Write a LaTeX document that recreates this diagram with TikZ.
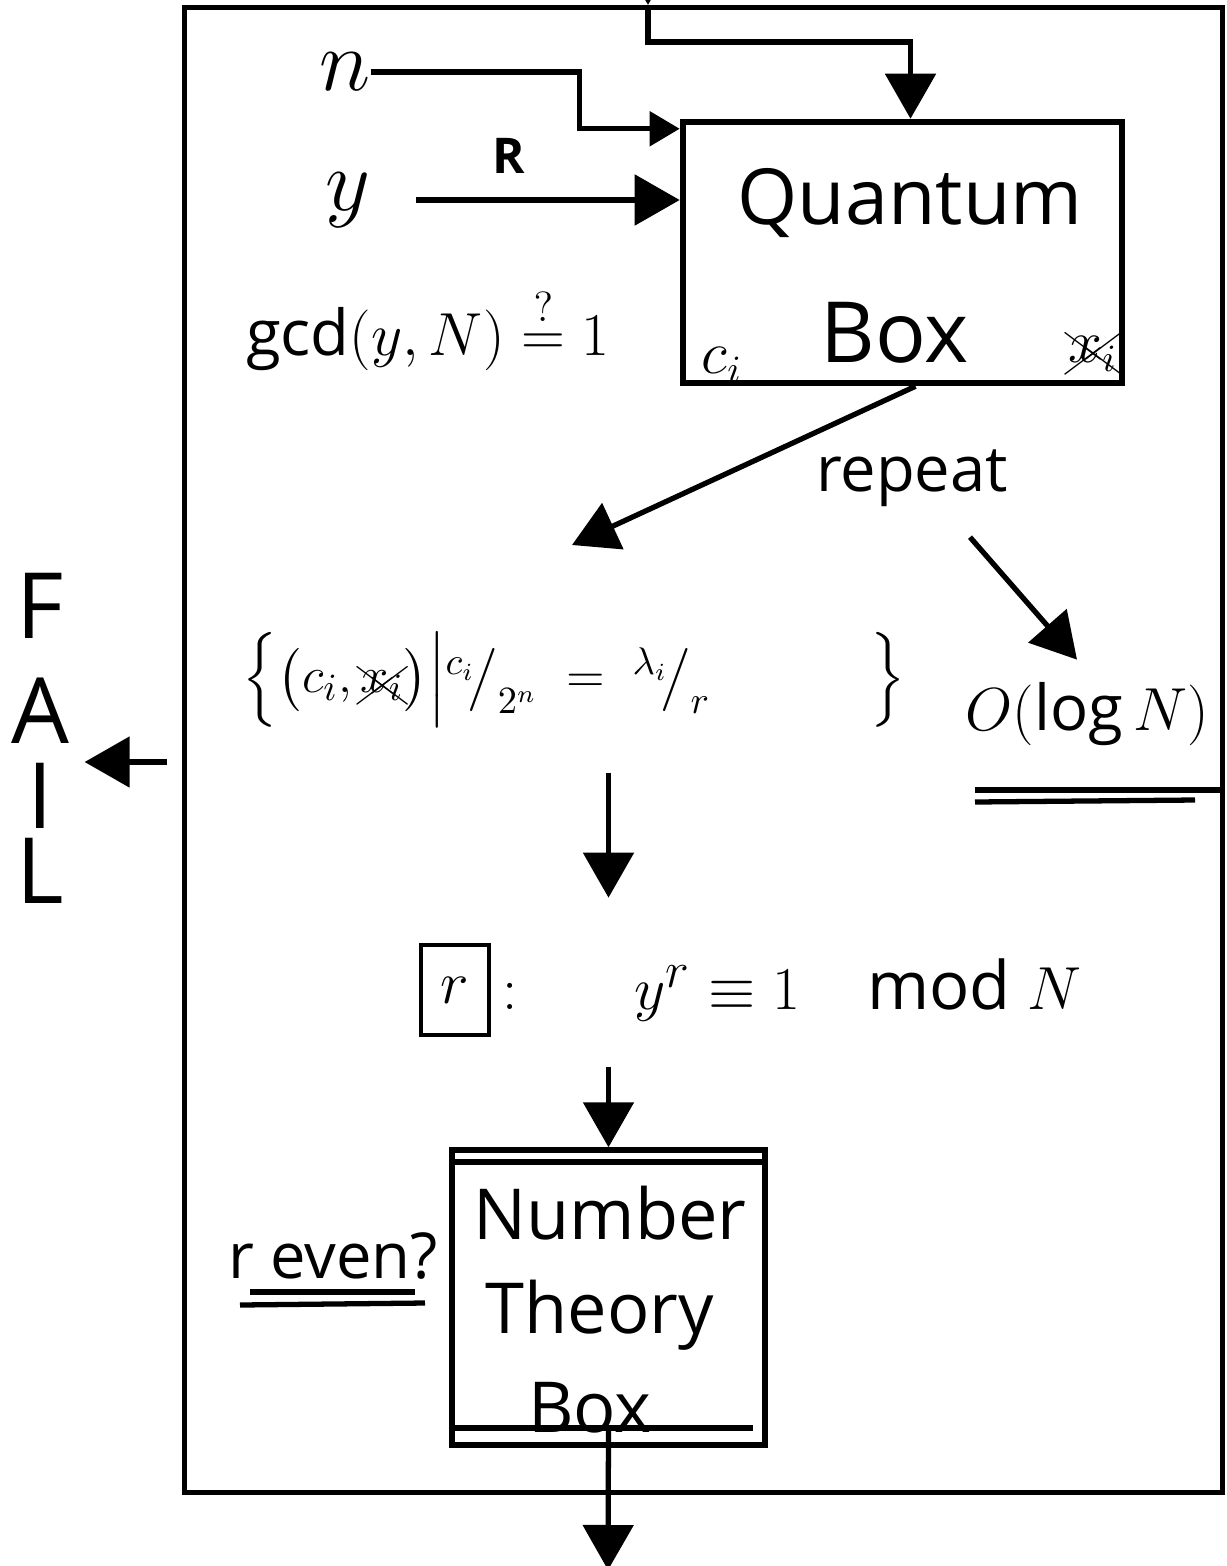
\documentclass[tikz,border=0pt]{standalone}
\usepackage{amsmath}
\usepackage{amssymb}
\usepackage{cancel}
\usepackage{fontspec}
\setmainfont{Open Sans}
\usetikzlibrary{arrows.meta,positioning,calc}
\tikzset{
  frame/.style={rectangle, draw, line width=1.5pt, inner sep=0pt},
  qbox/.style={rectangle, draw, line width=1.8pt, inner sep=0pt},
  arr/.style={-{Triangle[length=4.5mm,width=5mm]}, line width=1.5pt},
  sarr/.style={-{Triangle[length=3mm,width=3.4mm]}, line width=1.5pt},
  word/.style={font=\fontsize{22}{26}\selectfont, inner sep=0pt},
  formula/.style={font=\fontsize{18}{22}\selectfont, inner sep=0pt},
  fail/.style={font=\fontsize{26}{27}\selectfont, inner sep=0pt},
}
\begin{document}
\begin{tikzpicture}[x=0.01cm, y=-0.01cm]
\useasboundingbox (0,0) rectangle (1226,1566);
% outer frame and the two boxes
\node[frame, minimum width=10.37cm, minimum height=14.84cm] (frame) at (703.5,750) {};
\node[qbox, minimum width=4.39cm, minimum height=2.61cm] (qbox) at (902.5,252.5) {};
\node[frame, minimum width=3.13cm, minimum height=2.95cm] (ntbox) at (608.5,1297.5) {};
\draw[line width=1.8pt] ($(ntbox.north west)+(0,15)$) -- ($(ntbox.north east)+(0,15)$);
\draw[line width=1.8pt] ($(ntbox.south west)+(0,-20)$) -- ($(ntbox.south east)+(-15,-20)$);
% texts
\node[word] (qword) at (910,203) {Quantum};
\node[word, font=\fontsize{24}{28}\selectfont] (qbx) at (895,333) {Box};
\node[formula, font=\fontsize{16}{18}\selectfont] (ci) at (722,365) {$c_i$};
\node[formula, font=\fontsize{16}{18}\selectfont] (xq) at (1093,352) {$\xcancel{x_i}$};
\node[formula, font=\fontsize{24}{28}\selectfont] (nlab) at (345,72) {$n$};
\node[formula, font=\fontsize{24}{28}\selectfont] (ylab) at (348,200) {$y$};
\node[formula] (gcd) at (428,328) {$\gcd(y,N)\overset{?}{=}1$};
\node[formula] (rep) at (912,478) {repeat};
\node[formula, font=\fontsize{15}{18}\selectfont, anchor=west] (setx) at (242,680) {$\Bigl\{\bigl(c_i,\xcancel{x_i}\bigr)\Big|{}^{c_i}\!\big/_{2^n}\;=\;{}^{\lambda_i}\!\big/_{r}\hspace{1.6cm}\Bigr\}$};
\node[formula] (olog) at (1087,714) {$O(\log N)$};
\node[formula, draw, line width=1.3pt, minimum width=0.68cm, minimum height=0.9cm] (rbox) at (455,990) {$r$};
\node[formula, font=\fontsize{19}{23}\selectfont, right=0.1cm of rbox] (rexp) {$:\quad\;\; y^r\equiv 1\quad\mathrm{mod}\;N$};
\node[word, font=\fontsize{20}{24}\selectfont] (ntw1) at (610,1213) {Number};
\node[word, font=\fontsize{20}{24}\selectfont] (ntw2) at (600,1315) {Theory};
\node[word, font=\fontsize{20}{24}\selectfont] (ntw3) at (590,1408) {Box};
\node[formula] (reven) at (333,1256) {r even?};
\node[fail, align=center] (failw) at (40,738) {F\\[1mm]A\\[-1mm]I\\[-2mm]L};
% underlines
\draw[line width=1.5pt] (975,790) -- (1222,790);
\draw[line width=1.5pt] (975,802) -- (1195,800);
\draw[line width=1.5pt] (250,1292) -- (415,1292);
\draw[line width=1.5pt] (240,1305) -- (425,1303);
% connectors
\coordinate (topsrc) at (648,-60);
\draw[arr] (topsrc) -- (frame.north -| topsrc);
\draw[arr] (frame.north -| topsrc) -- ++(0,37) -| ([xshift=0.08cm]qbox.north);
\draw[sarr] (nlab.east) -- ++(208,0) |- ($(qbox.north west)+(0,10)$);
\draw[arr] ([xshift=0.45cm]ylab.east) -- (qbox.west |- ylab) node[pos=0.35, above=0.12cm, font=\fontsize{14}{16}\selectfont\bfseries] {R};
\coordinate (setin) at (572,545);
\draw[arr] ([xshift=0.13cm]qbox.south) -- (setin);
\draw[arr] ($(rep.south)+(58,30)$) -- ($(olog.north)+(-10,-22)$);
\draw[arr, shorten <=0.15cm, shorten >=0.15cm] (frame.west |- 0,762) -- (failw.east |- 0,762);
\draw[arr, shorten <=0.45cm, shorten >=0.45cm] (setx.south -| ntbox.north) -- (rbox.north -| ntbox.north);
\draw[arr, shorten <=0.3cm] (rbox.south -| ntbox.north) -- (ntbox.north);
\coordinate (out) at (608,1570);
\draw[arr] ($(ntbox.south)+(0,-20)$) -- (out);
\end{tikzpicture}
\end{document}
